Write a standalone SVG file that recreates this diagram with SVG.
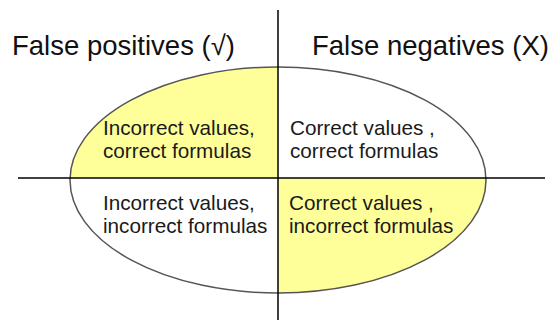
<svg xmlns="http://www.w3.org/2000/svg" width="556" height="320" viewBox="0 0 556 320">
<style>
.title{font-family:"Liberation Sans",Arial,sans-serif;font-size:27.5px;fill:#111}
.lbl{font-family:"Liberation Sans",Arial,sans-serif;font-size:20.7px;fill:#1a1a1a}
.axis{stroke:#000;stroke-width:1.5}
.yel{fill:#FFFF99}
</style>
<defs>
<clipPath id="ell"><ellipse cx="278" cy="180" rx="208" ry="113"/></clipPath>
</defs>
<rect width="556" height="320" fill="#fff"/>
<g id="ellipse">
<ellipse cx="278" cy="180" rx="208" ry="113" fill="#fff"/>
<g clip-path="url(#ell)">
<rect class="yel" x="0" y="0" width="278" height="178"/>
<rect class="yel" x="278" y="178" width="278" height="142"/>
</g>
<ellipse cx="278" cy="180" rx="208" ry="113" fill="none" stroke="#555" stroke-width="1.5"/>
</g>
<g id="axes">
<line class="axis" x1="278" y1="10" x2="278" y2="320"/>
<line class="axis" x1="18" y1="178" x2="545" y2="178"/>
</g>
<g id="title-left"><text class="title" x="12" y="55">False positives (√)</text></g>
<g id="title-right"><text class="title" x="312" y="55">False negatives (X)</text></g>
<g id="q-top-left">
<text class="lbl" x="103" y="135">Incorrect values,</text>
<text class="lbl" x="103" y="158">correct formulas</text>
</g>
<g id="q-top-right">
<text class="lbl" x="290" y="135">Correct values ,</text>
<text class="lbl" x="290" y="158">correct formulas</text>
</g>
<g id="q-bottom-left">
<text class="lbl" x="103" y="210">Incorrect values,</text>
<text class="lbl" x="103" y="233">incorrect formulas</text>
</g>
<g id="q-bottom-right">
<text class="lbl" x="289" y="210">Correct values ,</text>
<text class="lbl" x="289" y="233">incorrect formulas</text>
</g>
</svg>
